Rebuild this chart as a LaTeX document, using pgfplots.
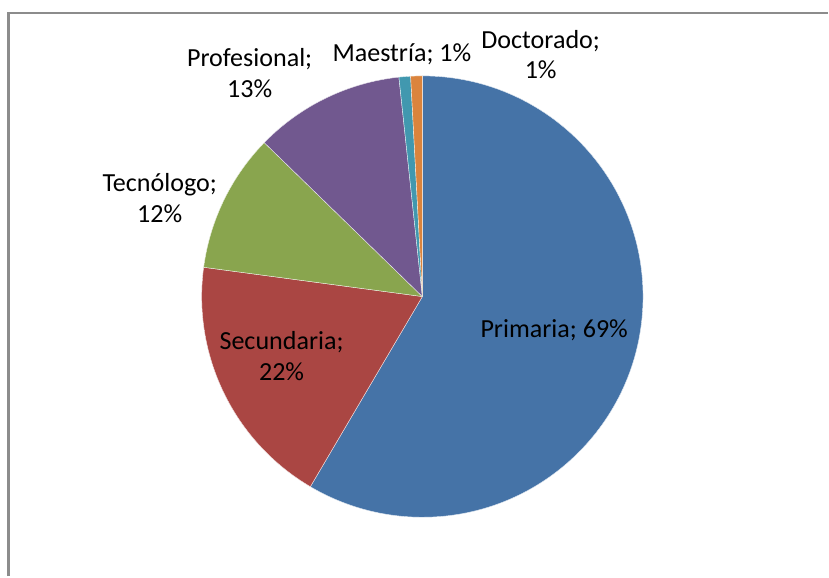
\documentclass[border=0pt]{standalone}
\usepackage{pgfplots}
\pgfplotsset{compat=1.18}
\usepackage{fontspec}
\setmainfont{Carlito}
\definecolor{cPri}{HTML}{4573A7}
\definecolor{cSec}{HTML}{AA4643}
\definecolor{cTec}{HTML}{89A54E}
\definecolor{cPro}{HTML}{71588F}
\definecolor{cMae}{HTML}{4198AF}
\definecolor{cDoc}{HTML}{DB843D}
\tikzset{lbl/.style={anchor=base, inner sep=0pt, text=black, font=\fontsize{26.2}{31}\selectfont}}
% slice: #1 cumulative value before, #2 value, #3 colour ; total = 118
\newcommand\slice[3]{%
  \pgfmathsetmacro\sa{90-#1/118*360}%
  \pgfmathsetmacro\ea{90-(#1+#2)/118*360}%
  \edef\temp{\noexpand\fill[#3, draw=white!85!#3, line width=0.4bp, line join=round]
    (axis cs:423,297) -- ++(\sa:221bp)
    arc[start angle=\sa, end angle=\ea, radius=221bp] -- cycle;}%
  \temp}
\begin{document}
\begin{tikzpicture}
\begin{axis}[
  width=829bp, height=577bp, scale only axis, y dir=reverse,
  xmin=0, xmax=829, ymin=0, ymax=577,
  hide axis, clip=false,
]
\path (axis cs:0,0) rectangle (axis cs:829,577);
\draw[color=black!45, line width=2.5bp] (axis cs:8.7,577) -- (axis cs:8.7,13) -- (axis cs:829,13);
% data: Primaria 69, Secundaria 22, Tecnologo 12, Profesional 13, Maestria 1, Doctorado 1
\slice{0}{69}{cPri}
\slice{69}{22}{cSec}
\slice{91}{12}{cTec}
\slice{103}{13}{cPro}
\slice{116}{1}{cMae}
\slice{117}{1}{cDoc}
\node[lbl] at (axis cs:555,338) {Primaria; 69\%};
\node[lbl] at (axis cs:282,350) {Secundaria;};
\node[lbl] at (axis cs:282,381.5) {22\%};
\node[lbl] at (axis cs:160,191.5) {Tecnólogo;};
\node[lbl] at (axis cs:160,223) {12\%};
\node[lbl] at (axis cs:250,66.5) {Profesional;};
\node[lbl] at (axis cs:250,97.5) {13\%};
\node[lbl] at (axis cs:402.5,61.5) {Maestría; 1\%};
\node[lbl] at (axis cs:541.5,48.3) {Doctorado;};
\node[lbl] at (axis cs:541.5,78.3) {1\%};
\end{axis}
\end{tikzpicture}
\end{document}
